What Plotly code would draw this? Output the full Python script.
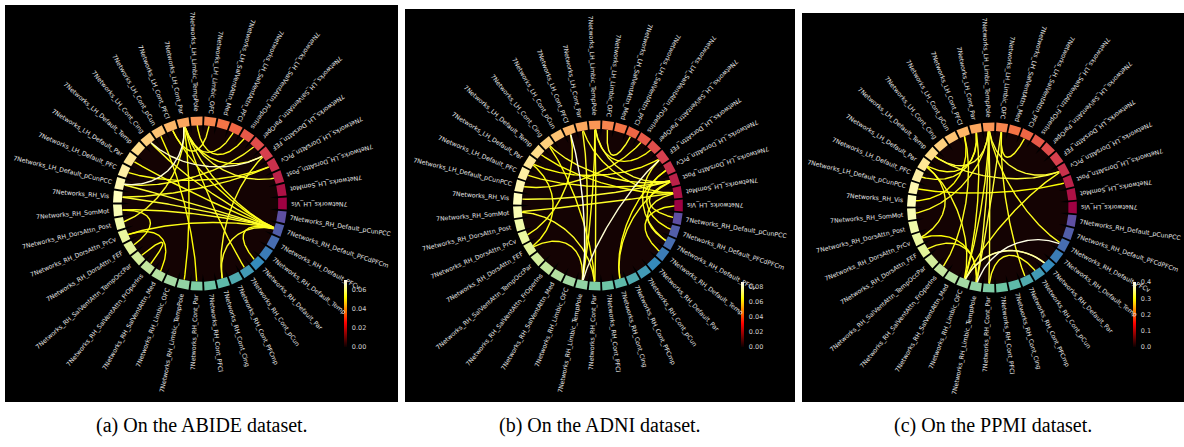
import numpy as np
import plotly.graph_objects as go

W, H = 1184, 447

# ---------------- data ----------------
node_names = [
    "7Networks_LH_Vis", "7Networks_LH_SomMot", "7Networks_LH_DorsAttn_Post",
    "7Networks_LH_DorsAttn_PrCv", "7Networks_LH_DorsAttn_FEF", "7Networks_LH_SalVentAttn_ParOper",
    "7Networks_LH_SalVentAttn_FrOperIns", "7Networks_LH_SalVentAttn_PFCl", "7Networks_LH_SalVentAttn_Med",
    "7Networks_LH_Limbic_OFC", "7Networks_LH_Limbic_TempPole", "7Networks_LH_Cont_Par",
    "7Networks_LH_Cont_PFCl", "7Networks_LH_Cont_pCun", "7Networks_LH_Cont_Cing",
    "7Networks_LH_Default_Temp", "7Networks_LH_Default_Par", "7Networks_LH_Default_PFC",
    "7Networks_LH_Default_pCunPCC", "7Networks_RH_Vis", "7Networks_RH_SomMot",
    "7Networks_RH_DorsAttn_Post", "7Networks_RH_DorsAttn_PrCv", "7Networks_RH_DorsAttn_FEF",
    "7Networks_RH_SalVentAttn_TempOccPar", "7Networks_RH_SalVentAttn_FrOperIns", "7Networks_RH_SalVentAttn_Med",
    "7Networks_RH_Limbic_OFC", "7Networks_RH_Limbic_TempPole", "7Networks_RH_Cont_Par",
    "7Networks_RH_Cont_PFCl", "7Networks_RH_Cont_Cing", "7Networks_RH_Cont_PFCmp",
    "7Networks_RH_Cont_pCun", "7Networks_RH_Default_Par", "7Networks_RH_Default_Temp",
    "7Networks_RH_Default_PFCv", "7Networks_RH_Default_PFCdPFCm", "7Networks_RH_Default_pCunPCC",
]

# connections: source node, target node, strength
abide_src = [37, 37, 37, 37, 37, 37, 37, 37, 37, 37, 11, 11, 11, 11, 11, 11, 11, 14, 3, 3, 31, 24, 22, 9, 6, 5, 13, 20]
abide_dst = [19, 20, 22, 14, 12, 18, 31, 16, 11, 34, 18, 7, 4, 2, 28, 33, 21, 4, 19, 17, 4, 25, 26, 12, 10, 18, 29, 23]
abide_val = [0.056, 0.055, 0.054, 0.055, 0.053, 0.056, 0.055, 0.054, 0.055, 0.054, 0.068, 0.055, 0.054, 0.056,
             0.053, 0.054, 0.055, 0.066, 0.055, 0.054, 0.055, 0.054, 0.053, 0.055, 0.054, 0.055, 0.053, 0.054]

adni_src = [12, 4, 10, 10, 11, 10, 11, 9, 10, 2, 2, 2, 1, 1, 2, 1, 3, 31, 31, 23, 23, 20, 14, 18, 16, 4, 0, 22]
adni_dst = [28, 28, 29, 28, 28, 2, 1, 7, 5, 14, 17, 19, 15, 20, 38, 36, 37, 2, 3, 16, 28, 29, 29, 6, 4, 36, 35, 12]
adni_val = [0.085, 0.083, 0.068, 0.067, 0.068, 0.069, 0.067, 0.068, 0.066, 0.068, 0.067, 0.069, 0.066, 0.068,
            0.067, 0.068, 0.066, 0.067, 0.066, 0.066, 0.067, 0.068, 0.066, 0.067, 0.066, 0.067, 0.066, 0.067]

ppmi_src = [36, 34, 10, 10, 10, 11, 9, 9, 10, 11, 10, 9, 11, 12, 10, 27, 23, 25, 22, 27, 3, 3, 16, 18, 36, 29]
ppmi_dst = [28, 27, 28, 27, 29, 27, 28, 32, 15, 16, 3, 7, 17, 19, 20, 34, 28, 12, 28, 16, 15, 27, 22, 2, 10, 33]
ppmi_val = [0.39, 0.37, 0.32, 0.31, 0.32, 0.31, 0.32, 0.31, 0.32, 0.31, 0.32, 0.31, 0.31, 0.30, 0.31, 0.32,
            0.31, 0.31, 0.30, 0.31, 0.32, 0.31, 0.31, 0.30, 0.31, 0.31]

abide_ticks = [0.0, 0.02, 0.04, 0.06]
adni_ticks = [0.0, 0.02, 0.04, 0.06, 0.08]
ppmi_ticks = [0.0, 0.1, 0.2, 0.3, 0.4]
captions = ["(a) On the ABIDE dataset.", "(b) On the ADNI dataset.", "(c) On the PPMI dataset."]

# ---------------- style / layout ----------------
panels = [
    dict(box=(5, 5, 398, 402), center=(200, 203.5), scale=8.7, src=abide_src, dst=abide_dst, val=abide_val,
         vmax=0.0705, ticks=abide_ticks, fmt="{:.2f}", cbar=(344, 280, 347), cap=captions[0]),
    dict(box=(405, 9, 795, 402), center=(598, 205.5), scale=8.5, src=adni_src, dst=adni_dst, val=adni_val,
         vmax=0.0867, ticks=adni_ticks, fmt="{:.2f}", cbar=(741, 282, 347), cap=captions[1]),
    dict(box=(802, 13, 1184, 402), center=(992, 207.5), scale=8.5, src=ppmi_src, dst=ppmi_dst, val=ppmi_val,
         vmax=0.4, ticks=ppmi_ticks, fmt="{:.1f}", cbar=(1133, 282, 347), cap=captions[2]),
]

SPECTRAL = ['#9e0142', '#d53e4f', '#f46d43', '#fdae61', '#fee08b', '#ffffbf',
            '#e6f598', '#abdda4', '#66c2a5', '#3288bd', '#5e4fa2']
DISK = '#140303'
LABEL_COLOR = '#e4e4e4'
LABEL_FS = 6.2
FONT = "DejaVu Sans"

DV = {' ': 651, '_': 1024, '7': 1303, 'A': 1401, 'B': 1405, 'C': 1430, 'D': 1577, 'E': 1294, 'F': 1178,
      'H': 1540, 'I': 604, 'L': 1141, 'M': 1767, 'N': 1532, 'O': 1612, 'P': 1235, 'R': 1423, 'S': 1300,
      'T': 1251, 'V': 1401, 'a': 1255, 'b': 1300, 'c': 1126, 'd': 1300, 'e': 1260, 'f': 721, 'g': 1300,
      'h': 1298, 'i': 569, 'k': 1186, 'l': 569, 'm': 1995, 'n': 1298, 'o': 1253, 'p': 1300, 'q': 1300,
      'r': 842, 's': 1067, 't': 803, 'u': 1298, 'v': 1212, 'w': 1675}


def text_width(s, fs):
    return sum(DV.get(c, 1200) for c in s) / 2048.0 * fs


def hexrgb(h):
    h = h.lstrip('#')
    return np.array([int(h[i:i + 2], 16) for i in (0, 2, 4)], dtype=float)


def spectral(t):
    pos = t * (len(SPECTRAL) - 1)
    i = min(int(np.floor(pos)), len(SPECTRAL) - 2)
    f = pos - i
    c = hexrgb(SPECTRAL[i]) * (1 - f) + hexrgb(SPECTRAL[i + 1]) * f
    return 'rgb(%d,%d,%d)' % tuple(np.round(c))


def hot(v):
    v = float(np.clip(v, 0, 1))
    r = np.interp(v, [0, 0.365079, 1], [0.0416, 1, 1])
    g = np.interp(v, [0, 0.365079, 0.746032, 1], [0, 0, 1, 1])
    b = np.interp(v, [0, 0.746032, 1], [0, 0, 1])
    return 'rgb(%d,%d,%d)' % (round(r * 255), round(g * 255), round(b * 255))


HOT_SCALE = [[0, 'rgb(11,0,0)'], [0.365079, 'rgb(255,0,0)'], [0.746032, 'rgb(255,255,0)'], [1, 'rgb(255,255,255)']]

n = len(node_names)
step = 360.0 / n
angles = np.arange(n) * step
gap_deg = 1.3

fig = go.Figure()
annotations = []
layout_axes = {}

for k, p in enumerate(panels, start=1):
    xa = 'x' if k == 1 else 'x%d' % k
    ya = 'y' if k == 1 else 'y%d' % k
    x0, y0, x1, y1 = p['box']
    cx, cy = p['center']
    s = p['scale']
    layout_axes['xaxis' if k == 1 else 'xaxis%d' % k] = dict(
        domain=[x0 / W, x1 / W], range=[(x0 - cx) / s, (x1 - cx) / s], visible=False, fixedrange=True)
    layout_axes['yaxis' if k == 1 else 'yaxis%d' % k] = dict(
        domain=[1 - y1 / H, 1 - y0 / H], range=[-(y1 - cy) / s, (cy - y0) / s], visible=False, fixedrange=True)

    common = dict(xaxis=xa, yaxis=ya, showlegend=False, hoverinfo='skip')

    # inner disk
    t = np.linspace(0, 2 * np.pi, 241)
    fig.add_trace(go.Scatter(x=9 * np.cos(t), y=9 * np.sin(t), mode='lines', fill='toself',
                             fillcolor=DISK, line=dict(width=0), **common))
    # dark spikes between nodes
    sx, sy = [], []
    for a in angles:
        g = np.deg2rad(a + step / 2)
        h = np.deg2rad(0.9)
        sx += [9.05 * np.cos(g - h), 8.1 * np.cos(g), 9.05 * np.cos(g + h), 9.05 * np.cos(g - h), None]
        sy += [9.05 * np.sin(g - h), 8.1 * np.sin(g), 9.05 * np.sin(g + h), 9.05 * np.sin(g - h), None]
    fig.add_trace(go.Scatter(x=sx, y=sy, mode='lines', fill='toself', fillcolor='black',
                             line=dict(width=0), **common))

    # connections (weakest first)
    order = np.argsort(p['val'])
    tt = np.linspace(0, 1, 120)
    for idx in order:
        i, j, v = p['src'][idx], p['dst'][idx], p['val'][idx]
        t0, t1 = np.deg2rad(angles[i]), np.deg2rad(angles[j])
        P = np.array([[10 * np.cos(t0), 10 * np.sin(t0)], [5 * np.cos(t0), 5 * np.sin(t0)],
                      [5 * np.cos(t1), 5 * np.sin(t1)], [10 * np.cos(t1), 10 * np.sin(t1)]])
        B = ((1 - tt) ** 3)[:, None] * P[0] + (3 * (1 - tt) ** 2 * tt)[:, None] * P[1] + \
            (3 * (1 - tt) * tt ** 2)[:, None] * P[2] + (tt ** 3)[:, None] * P[3]
        rr = np.hypot(B[:, 0], B[:, 1])
        B = B[rr <= 9.05]
        fig.add_trace(go.Scatter(x=B[:, 0], y=B[:, 1], mode='lines',
                                 line=dict(color=hot(v / p['vmax']), width=1.4), **common))

    # node ring
    for m, a in enumerate(angles):
        th = np.deg2rad(np.linspace(a - (step - gap_deg) / 2, a + (step - gap_deg) / 2, 8))
        bx = np.concatenate([9 * np.cos(th), 10 * np.cos(th[::-1])])
        by = np.concatenate([9 * np.sin(th), 10 * np.sin(th[::-1])])
        fig.add_trace(go.Scatter(x=bx, y=by, mode='lines', fill='toself', fillcolor=spectral(m / (n - 1)),
                                 line=dict(width=0), **common))

    # node labels
    for name, a in zip(node_names, angles):
        w = text_width(name, LABEL_FS)
        rc = 10.4 + (w / 2 + 0.5) / s
        rad = np.deg2rad(a)
        rot = a if a >= 270 else a + 180
        ta = -rot
        while ta <= -180:
            ta += 360
        while ta > 180:
            ta -= 360
        annotations.append(dict(x=rc * np.cos(rad), y=rc * np.sin(rad), xref=xa, yref=ya, text=name,
                                showarrow=False, textangle=ta, xanchor='center', yanchor='middle',
                                font=dict(family=FONT, size=LABEL_FS, color=LABEL_COLOR), borderpad=0))

    # colour bar
    bx_, btop, bbot = p['cbar']
    fig.add_trace(go.Scatter(x=[1e4, 1e4], y=[1e4, 1e4], mode='markers', xaxis=xa, yaxis=ya,
                             showlegend=False, hoverinfo='skip',
                             marker=dict(color=[0, p['vmax']], cmin=0, cmax=p['vmax'], colorscale=HOT_SCALE,
                                         showscale=True,
                                         colorbar=dict(x=bx_ / W, xanchor='left', y=1 - (btop + bbot) / 2 / H,
                                                       yanchor='middle', len=bbot - btop, lenmode='pixels',
                                                       thickness=3, thicknessmode='pixels', outlinewidth=0,
                                                       xpad=0, ypad=0, tickvals=p['ticks'],
                                                       ticktext=[p['fmt'].format(v) for v in p['ticks']],
                                                       ticks='outside', ticklen=4, tickcolor='rgba(0,0,0,0)',
                                                       tickfont=dict(family=FONT, size=6.5, color='#d0d0d0'),
                                                       bgcolor='rgba(0,0,0,0)'))))

    annotations.append(dict(x=(x0 + x1) / 2 / W, y=1 - 425 / H, xref='paper', yref='paper', text=p['cap'],
                            showarrow=False, xanchor='center', yanchor='middle',
                            font=dict(family="Liberation Serif", size=20, color='black')))

fig.update_layout(width=W, height=H, margin=dict(l=0, r=0, t=0, b=0), paper_bgcolor='white',
                  plot_bgcolor='black', annotations=annotations, **layout_axes)

fig.write_html("out.html")
